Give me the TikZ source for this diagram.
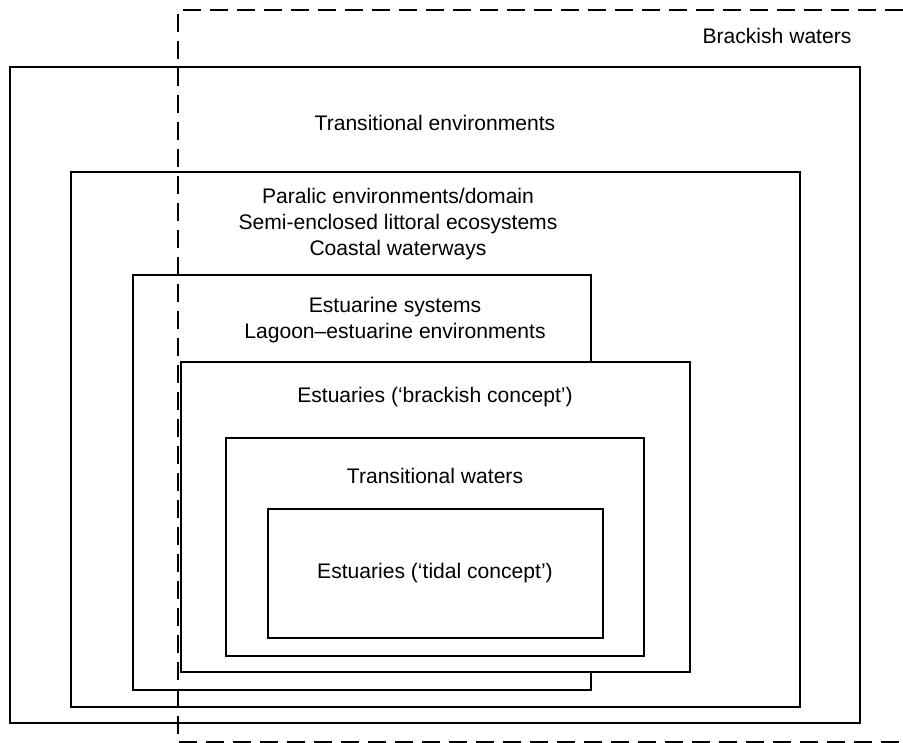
\documentclass[tikz,border=0pt]{standalone}
\usepackage{fontspec}
\setmainfont{Liberation Sans}
\usetikzlibrary{positioning}
\tikzstyle{zonebox} = [draw=black, line width=1pt]
\tikzstyle{zonetext} = [font=\fontsize{12}{14.8}\selectfont, align=center, inner sep=0pt]

\begin{document}
\begin{tikzpicture}[x=0.2mm, y=-0.2mm]
        \tikzstyle{brackline} = [draw=black, line width=1pt, dash pattern=on 0.36cm off 0.18cm]
        \useasboundingbox (0,0) rectangle (903,743);

        \draw[zonebox] (10,67) rectangle (860,723);
        \draw[zonebox] (71,172) rectangle (800,707);
        \draw[zonebox] (133,275) rectangle (591,690);
        \draw[zonebox, fill=white] (181,362) rectangle (690,672);
        \draw[zonebox] (226,438) rectangle (644,656);
        \draw[zonebox] (268,509) rectangle (603,638);

        \node[zonetext] (brackish) at (777,36) {Brackish waters};
        \node[zonetext] (transenv) at (435,123) {Transitional environments};
        \node[zonetext] (paralic) at (398,224) {Paralic environments/domain\\Semi-enclosed littoral ecosystems\\Coastal waterways};
        \node[zonetext] (estsys) at (395,320) {Estuarine systems\\Lagoon–estuarine environments};
        \node[zonetext] (estbrack) at (435,397) {Estuaries (‘brackish concept’)};
        \node[zonetext] (transwat) at (435,476) {Transitional waters};
        \node[zonetext] (esttidal) at (435,573) {Estuaries (‘tidal concept’)};

        \draw[brackline] (903,10) -- (178,10) -- (178,742) -- (903,742);
\end{tikzpicture}
\end{document}
